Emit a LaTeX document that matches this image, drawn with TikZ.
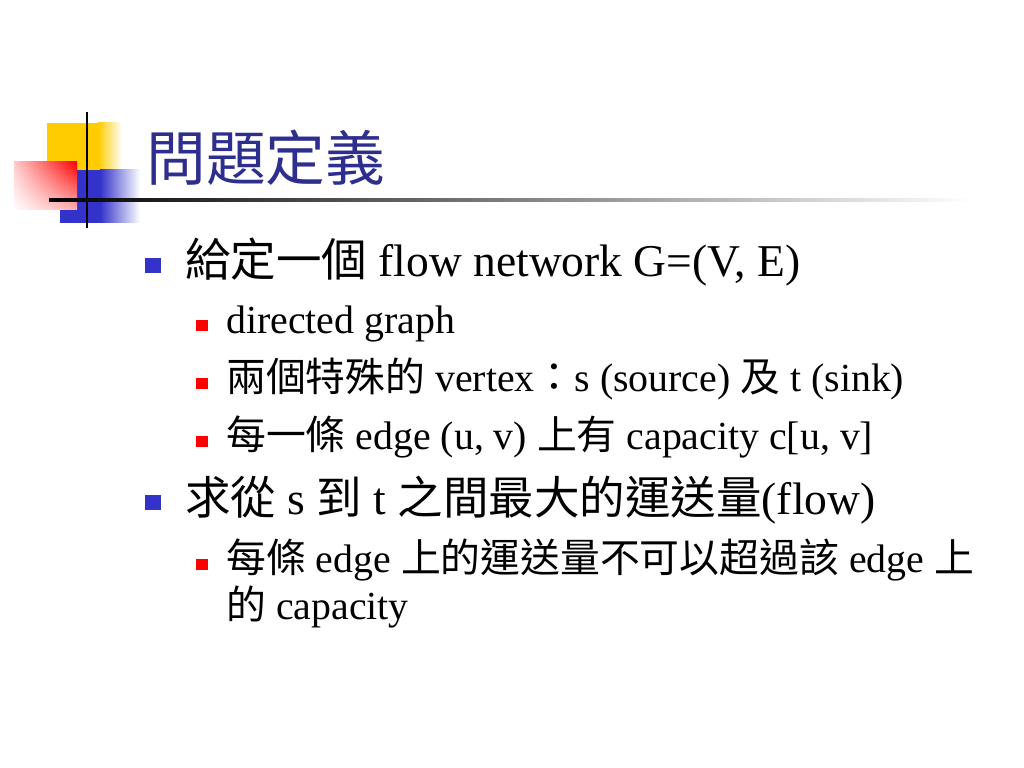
\documentclass[tikz,border=0pt]{standalone}
\usepackage{fontspec}
\setmainfont{Liberation Serif}
\newfontfamily\cjk{Noto Sans CJK TC}
\usetikzlibrary{calc,shadings}
\definecolor{pyellow}{HTML}{FFCC00}
\definecolor{pblue}{HTML}{3333CC}
\definecolor{titleblue}{HTML}{2E2E8F}
\tikzset{>=latex}

\begin{document}
\begin{tikzpicture}[x=0.703125pt, y=-0.703125pt,
  headline/.style={anchor=base west, inner sep=0pt, text=titleblue, font=\cjk\fontsize{42pt}{50pt}\selectfont},
  lvlone/.style={anchor=base west, inner sep=0pt, font=\fontsize{32pt}{38pt}\selectfont},
  lvltwo/.style={anchor=base west, inner sep=0pt, font=\fontsize{28pt}{33pt}\selectfont},
  bulletone/.style={fill=pblue, inner sep=0pt, minimum width=11.25pt, minimum height=10.5pt},
  bullettwo/.style={fill=red, inner sep=0pt, minimum size=8.4pt}]
\fill[white] (0,0) rectangle (1024,768);
\useasboundingbox (0,0) rectangle (1024,768);

% corner squares
\fill[pyellow] (47,123) rectangle (98,172);
\shade[left color=pyellow, right color=white] (98,123) rectangle (122,172);
\fill[pblue] (60,170) rectangle (100,223);
\shade[left color=pblue, right color=white] (100,170) rectangle (140,223);
\shade[upper left=red!20, upper right=red, lower left=white, lower right=red!30] (14,162) rectangle (77,210);
\draw[line width=2.1pt] (87,112) -- (87,228);
\shade[left color=black, middle color=black!55, right color=white] (49,199) rectangle (975,202);

\node[headline] (title) at (146,181) {問題定義};

\node[lvlone] (t1) at (185,277) {{\cjk 給定一個} flow network G=(V, E)};
\node[lvltwo] (s1) at (226,333) {directed graph};
\node[lvltwo] (s2) at (226,391) {{\cjk 兩個特殊的} vertex{\cjk ：}s (source) {\cjk 及} t (sink)};
\node[lvltwo] (s3) at (226,449) {{\cjk 每一條} edge (u, v) {\cjk 上有} capacity c[u, v]};
\node[lvlone] (t2) at (185,514) {{\cjk 求從} s {\cjk 到} t {\cjk 之間最大的運送量}(flow)};
\node[lvltwo] (s4) at (226,572) {{\cjk 每條} edge {\cjk 上的運送量不可以超過該} edge {\cjk 上}};
\node[lvltwo] (s4b) at ($(s4.base west)+(0,47)$) {{\cjk 的} capacity};

\foreach \t in {t1,t2}
  \node[bulletone] (b\t) at ($(\t.base west)+(-32,-11.5)$) {};
\foreach \s in {s1,s2,s3,s4}
  \node[bullettwo] (b\s) at ($(\s.base west)+(-24,-7.5)$) {};
\end{tikzpicture}
\end{document}
